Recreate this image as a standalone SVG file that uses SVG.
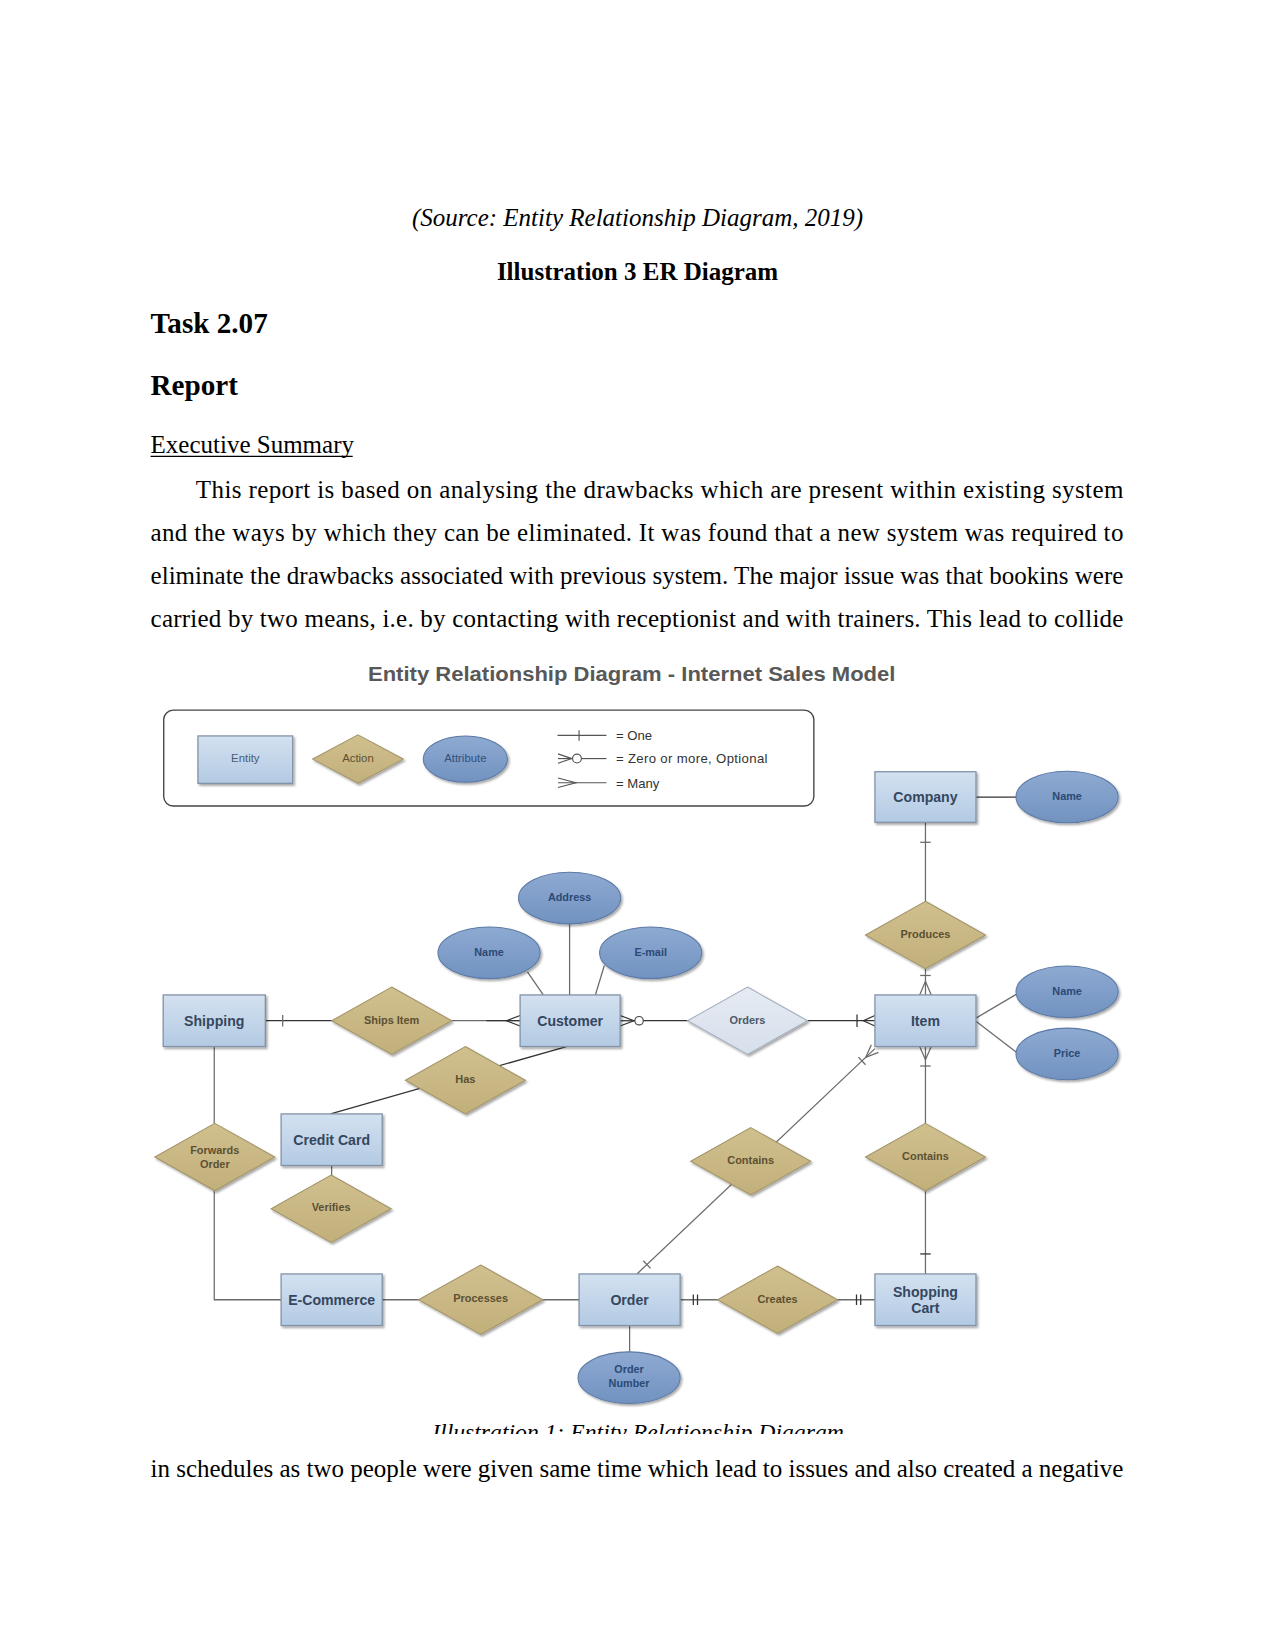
<svg xmlns="http://www.w3.org/2000/svg" width="1275" height="1651" viewBox="0 0 1275 1651">
<defs>
  <linearGradient id="gEnt" x1="0" y1="0" x2="0" y2="1">
    <stop offset="0" stop-color="#d3e1f0"/>
    <stop offset="1" stop-color="#b3cae3"/>
  </linearGradient>
  <linearGradient id="gAct" x1="0" y1="0" x2="0" y2="1">
    <stop offset="0" stop-color="#d0c08e"/>
    <stop offset="1" stop-color="#c2b07b"/>
  </linearGradient>
  <linearGradient id="gOrd" x1="0" y1="0" x2="0" y2="1">
    <stop offset="0" stop-color="#e6ebf3"/>
    <stop offset="1" stop-color="#d6dfeb"/>
  </linearGradient>
  <linearGradient id="gAtt" x1="0" y1="0" x2="0" y2="1">
    <stop offset="0" stop-color="#8eaad2"/>
    <stop offset="1" stop-color="#7192c0"/>
  </linearGradient>
  <filter id="sh" x="-10%" y="-10%" width="130%" height="140%">
    <feDropShadow dx="1.5" dy="1.8" stdDeviation="0.9" flood-color="#000" flood-opacity="0.35"/>
  </filter>
  <clipPath id="capClip"><rect x="0" y="0" width="1211" height="1362"/></clipPath>
</defs>
<style>
  .body{font-family:"Liberation Serif","Times New Roman",serif;font-size:23.75px;fill:#000}
  .it{font-style:italic}
  .bd{font-weight:bold}
  .ent rect{fill:url(#gEnt);stroke:#8191a6;stroke-width:1.2;filter:url(#sh)}
  .ent text{font-family:"Liberation Sans",Arial,sans-serif;font-weight:bold;font-size:13.4px;fill:#34475e;text-anchor:middle}
  .act polygon{fill:url(#gAct);stroke:#a39468;stroke-width:1;filter:url(#sh)}
  .act text{font-family:"Liberation Sans",Arial,sans-serif;font-weight:bold;font-size:10.4px;fill:#5b5032;text-anchor:middle}
  .act.light polygon{fill:url(#gOrd);stroke:#a3adbd}
  .act.light text{fill:#4d5768}
  .att ellipse{fill:url(#gAtt);stroke:#5b7aa5;stroke-width:1;filter:url(#sh)}
  .att text{font-family:"Liberation Sans",Arial,sans-serif;font-weight:bold;font-size:10.3px;fill:#2b4a75;text-anchor:middle}
  .conn line,.conn path,.conn polyline{stroke:#6b6b6b;stroke-width:1.2;fill:none}
  .conn .dk{stroke:#333}
  .conn circle{fill:#fff;stroke:#444;stroke-width:1.1}
  .leg text{font-family:"Liberation Sans",Arial,sans-serif;font-size:12.5px;fill:#333}
  .leg .ent text,.leg .act text,.leg .att text{font-weight:normal;font-size:10.8px}
  .leg .ent text{fill:#4a5a70}
  .leg .act text{fill:#5b5032}
  .leg .att text{fill:#34507a}
  .leg line,.leg polyline{stroke:#555;stroke-width:1.1;fill:none}
  .leg circle{fill:#fff;stroke:#555;stroke-width:1.1}
</style>
<rect x="0" y="0" width="1275" height="1651" fill="#fff"/>
<g transform="scale(1.05285)">
  <!-- document text -->
  <g id="doc-text">
    <text class="body it" x="605.5" y="215" text-anchor="middle">(Source: Entity Relationship Diagram, 2019)</text>
    <text class="body bd" x="605.5" y="266" text-anchor="middle">Illustration 3 ER Diagram</text>
    <text class="body bd" x="143" y="316" style="font-size:27.7px">Task 2.07</text>
    <text class="body bd" x="143" y="375" style="font-size:27.7px">Report</text>
    <text class="body" x="143" y="430">Executive Summary</text>
    <line x1="143" y1="433.5" x2="335" y2="433.5" stroke="#000" stroke-width="1.1"/>
    <text class="body" x="186" y="473" textLength="881" lengthAdjust="spacing">This report is based on analysing the drawbacks which are present within existing system</text>
    <text class="body" x="143" y="514" textLength="924" lengthAdjust="spacing">and the ways by which they can be eliminated. It was found that a new system was required to</text>
    <text class="body" x="143" y="555" textLength="924" lengthAdjust="spacing">eliminate the drawbacks associated with previous system. The major issue was that bookins were</text>
    <text class="body" x="143" y="596" textLength="924" lengthAdjust="spacing">carried by two means, i.e. by contacting with receptionist and with trainers. This lead to collide</text>
    <g clip-path="url(#capClip)">
      <text class="body it" x="606" y="1368" text-anchor="middle" style="font-size:22.5px">Illustration 1: Entity Relationship Diagram</text>
    </g>
    <text class="body" x="143" y="1403" textLength="924" lengthAdjust="spacing">in schedules as two people were given same time which lead to issues and also created a negative</text>
  </g>

  <!-- diagram title -->
  <text id="diagram-title" x="600" y="647" text-anchor="middle" textLength="501" lengthAdjust="spacingAndGlyphs" style="font-family:'Liberation Sans',Arial,sans-serif;font-weight:bold;font-size:20px;fill:#585858">Entity Relationship Diagram - Internet Sales Model</text>

  <!-- legend -->
  <g id="legend" class="leg">
    <rect x="155.5" y="674.5" width="617.5" height="91" rx="9" fill="#fff" stroke="#444" stroke-width="1.3"/>
    <g class="ent"><rect x="188" y="699" width="90" height="45"/><text x="233" y="720" dy="0.35em">Entity</text></g>
    <g class="act"><polygon points="340,698 383,721 340,744 297,721"/><text x="340" y="720" dy="0.35em">Action</text></g>
    <g class="att"><ellipse cx="442" cy="721" rx="40" ry="22"/><text x="442" y="720" dy="0.35em">Attribute</text></g>
    <line x1="529.5" y1="698.5" x2="576" y2="698.5"/>
    <line x1="550" y1="693.5" x2="550" y2="703.5"/>
    <text x="585" y="703">= One</text>
    <polyline points="530,716 543,720.5 530,725"/>
    <line x1="530" y1="720.5" x2="543.5" y2="720.5"/>
    <circle cx="548" cy="720.5" r="4.2"/>
    <line x1="552.2" y1="720.5" x2="576" y2="720.5"/>
    <text x="585" y="725" textLength="144" lengthAdjust="spacing">= Zero or more, Optional</text>
    <polyline points="530,739 547,743.5 530,748"/>
    <line x1="530" y1="743.5" x2="576" y2="743.5"/>
    <text x="585" y="748">= Many</text>
  </g>

  <!-- connectors -->
  <g id="connectors" class="conn">
    <line class="dk" x1="927" y1="757" x2="966" y2="757"/>
    <line x1="879" y1="781" x2="879" y2="857"/>
    <line x1="874" y1="800" x2="884" y2="800"/>
    <line x1="879" y1="919" x2="879" y2="945"/>
    <line x1="874" y1="926.5" x2="884" y2="926.5"/>
    <polyline points="873.5,945 879,932 884.5,945"/>
    <line x1="927" y1="967" x2="966" y2="944"/>
    <line x1="927" y1="970" x2="966" y2="1000"/>
    <line class="dk" x1="252" y1="969.5" x2="316" y2="969.5"/>
    <line x1="268.5" y1="964" x2="268.5" y2="975"/>
    <line x1="428" y1="969.5" x2="494" y2="969.5"/>
    <line class="dk" x1="462" y1="969.5" x2="494" y2="969.5"/>
    <polyline class="dk" points="494,964.5 481,969.5 494,974.5"/>
    <polyline class="dk" points="589,964.5 602,969.5 589,974.5"/>
    <line class="dk" x1="589" y1="969.5" x2="603" y2="969.5"/>
    <circle cx="607" cy="969.5" r="4"/>
    <line class="dk" x1="611" y1="969.5" x2="654" y2="969.5"/>
    <line class="dk" x1="766" y1="969.5" x2="831" y2="969.5"/>
    <line class="dk" x1="814" y1="963.5" x2="814" y2="975.5"/>
    <polyline class="dk" points="831,964.5 820,969.5 831,974.5"/>
    <line x1="541" y1="877" x2="541" y2="945"/>
    <line x1="501" y1="923" x2="516" y2="945"/>
    <line x1="574" y1="917" x2="565.5" y2="945"/>
    <line class="dk" x1="538" y1="994" x2="314" y2="1058"/>
    <line x1="203.5" y1="994" x2="203.5" y2="1067"/>
    <path d="M203.5,1131 V1234.5 H267"/>
    <line x1="315" y1="1107" x2="315" y2="1117"/>
    <line x1="363" y1="1234.5" x2="398" y2="1234.5"/>
    <line x1="515" y1="1234.5" x2="550" y2="1234.5"/>
    <line x1="646" y1="1234.5" x2="682" y2="1234.5"/>
    <line class="dk" x1="658.5" y1="1229.5" x2="658.5" y2="1239.5"/>
    <line class="dk" x1="662.5" y1="1229.5" x2="662.5" y2="1239.5"/>
    <line x1="795" y1="1234.5" x2="831" y2="1234.5"/>
    <line class="dk" x1="813.5" y1="1229.5" x2="813.5" y2="1239.5"/>
    <line class="dk" x1="817.5" y1="1229.5" x2="817.5" y2="1239.5"/>
    <line x1="598" y1="1259" x2="598" y2="1284"/>
    <line x1="879" y1="994" x2="879" y2="1067"/>
    <polyline points="873.5,994 879,1006.5 884.5,994"/>
    <line x1="874" y1="1012.5" x2="884" y2="1012.5"/>
    <line x1="879" y1="1131" x2="879" y2="1210"/>
    <line class="dk" x1="874" y1="1191" x2="884" y2="1191"/>
    <line x1="605" y1="1210" x2="831" y2="996"/>
    <polyline points="834.4,999.6 822.3,1004.2 827.6,992.4"/>
    <line x1="822.1" y1="1011.3" x2="815.3" y2="1004.1"/>
    <line x1="617.9" y1="1204.7" x2="611" y2="1197.5"/>
  </g>

  <!-- attributes -->
  <g id="attr-company-name" class="att"><ellipse cx="1013.5" cy="757" rx="48.5" ry="24.5"/><text x="1013.5" y="756" dy="0.35em">Name</text></g>
  <g id="attr-item-name" class="att"><ellipse cx="1013.5" cy="942" rx="48.5" ry="24.5"/><text x="1013.5" y="941" dy="0.35em">Name</text></g>
  <g id="attr-price" class="att"><ellipse cx="1013.5" cy="1001" rx="48.5" ry="24.5"/><text x="1013.5" y="1000" dy="0.35em">Price</text></g>
  <g id="attr-address" class="att"><ellipse cx="541" cy="853" rx="48.5" ry="24.5"/><text x="541" y="852" dy="0.35em">Address</text></g>
  <g id="attr-customer-name" class="att"><ellipse cx="464.5" cy="905" rx="48.5" ry="24.5"/><text x="464.5" y="904" dy="0.35em">Name</text></g>
  <g id="attr-email" class="att"><ellipse cx="618" cy="905" rx="48.5" ry="24.5"/><text x="618" y="904" dy="0.35em">E-mail</text></g>
  <g id="attr-order-number" class="att"><ellipse cx="597.5" cy="1308.5" rx="48.5" ry="24.5"/><text x="597.5" y="1300" dy="0.35em">Order</text><text x="597.5" y="1314" dy="0.35em">Number</text></g>

  <!-- actions -->
  <g id="act-produces" class="act"><polygon points="879,856 936,888 879,920 822,888"/><text x="879" y="887" dy="0.35em">Produces</text></g>
  <g id="act-ships-item" class="act"><polygon points="372,937.5 429,969.5 372,1001.5 315,969.5"/><text x="372" y="968.5" dy="0.35em">Ships Item</text></g>
  <g id="act-orders" class="act light"><polygon points="710,937.5 767,969.5 710,1001.5 653,969.5"/><text x="710" y="968.5" dy="0.35em">Orders</text></g>
  <g id="act-has" class="act"><polygon points="442,994 499,1026 442,1058 385,1026"/><text x="442" y="1025" dy="0.35em">Has</text></g>
  <g id="act-forwards-order" class="act"><polygon points="204,1067 261,1099 204,1131 147,1099"/><text x="204" y="1092" dy="0.35em">Forwards</text><text x="204" y="1106" dy="0.35em">Order</text></g>
  <g id="act-verifies" class="act"><polygon points="314.5,1116 371.5,1148 314.5,1180 257.5,1148"/><text x="314.5" y="1147" dy="0.35em">Verifies</text></g>
  <g id="act-contains-left" class="act"><polygon points="713,1071 770,1103 713,1135 656,1103"/><text x="713" y="1102" dy="0.35em">Contains</text></g>
  <g id="act-contains-right" class="act"><polygon points="879,1067 936,1099 879,1131 822,1099"/><text x="879" y="1098" dy="0.35em">Contains</text></g>
  <g id="act-processes" class="act"><polygon points="456.5,1201.5 515.5,1234.5 456.5,1267.5 397.5,1234.5"/><text x="456.5" y="1233" dy="0.35em">Processes</text></g>
  <g id="act-creates" class="act"><polygon points="738.5,1202.5 795.5,1234.5 738.5,1266.5 681.5,1234.5"/><text x="738.5" y="1233.5" dy="0.35em">Creates</text></g>

  <!-- entities -->
  <g id="ent-company" class="ent"><rect x="831" y="733" width="96" height="48"/><text x="879" y="757" dy="0.35em">Company</text></g>
  <g id="ent-item" class="ent"><rect x="831" y="945" width="96" height="49"/><text x="879" y="969.5" dy="0.35em">Item</text></g>
  <g id="ent-shipping" class="ent"><rect x="155" y="945" width="97" height="49"/><text x="203.5" y="969.5" dy="0.35em">Shipping</text></g>
  <g id="ent-customer" class="ent"><rect x="494" y="945" width="95" height="49"/><text x="541.5" y="969.5" dy="0.35em">Customer</text></g>
  <g id="ent-credit-card" class="ent"><rect x="267" y="1058" width="96" height="49"/><text x="315" y="1082.5" dy="0.35em">Credit Card</text></g>
  <g id="ent-ecommerce" class="ent"><rect x="267" y="1210" width="96" height="49"/><text x="315" y="1234.5" dy="0.35em">E-Commerce</text></g>
  <g id="ent-order" class="ent"><rect x="550" y="1210" width="96" height="49"/><text x="598" y="1234.5" dy="0.35em">Order</text></g>
  <g id="ent-shopping-cart" class="ent"><rect x="831" y="1210" width="96" height="49"/><text x="879" y="1227" dy="0.35em">Shopping</text><text x="879" y="1242" dy="0.35em">Cart</text></g>
</g>
</svg>
